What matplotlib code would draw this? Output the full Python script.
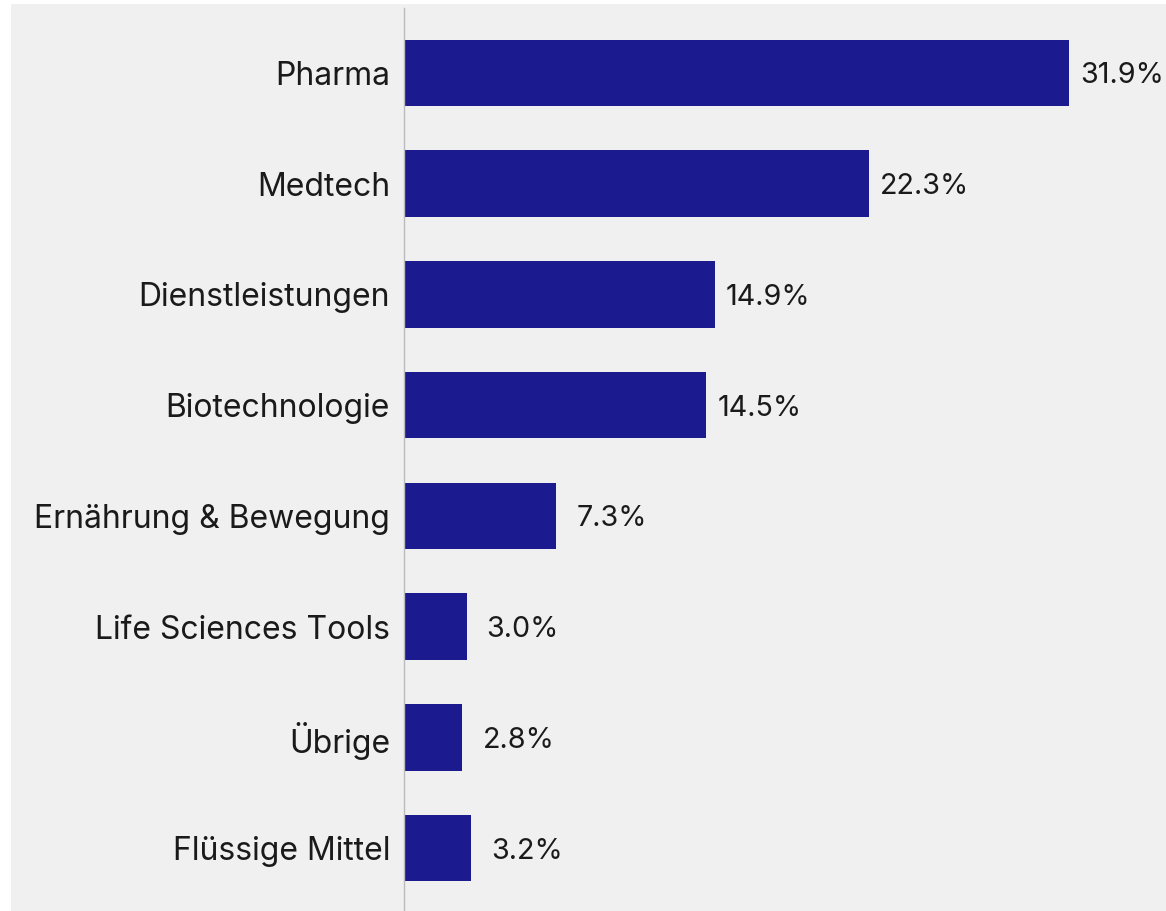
import matplotlib.pyplot as plt
from matplotlib.patches import Rectangle

categories = ['Pharma', 'Medtech', 'Dienstleistungen', 'Biotechnologie',
              'Ernährung & Bewegung', 'Life Sciences Tools', 'Übrige', 'Flüssige Mittel']
values = [31.9, 22.3, 14.9, 14.5, 7.3, 3.0, 2.8, 3.2]
labels = ['31.9%', '22.3%', '14.9%', '14.5%', '7.3%', '3.0%', '2.8%', '3.2%']

plt.rcParams['font.family'] = ['Inter', 'DejaVu Sans']

W, H = 1166, 911
fig = plt.figure(figsize=(W / 100, H / 100), dpi=100, facecolor='white')
# grey background panel (white strip on the left and top)
fig.patches.append(Rectangle((11 / W, 0), 1 - 11 / W, 1 - 4 / H, transform=fig.transFigure,
                             facecolor='#f0f0f0', edgecolor='none', zorder=-10))

ax = fig.add_axes([404 / W, 0, 1 - 404 / W, (911 - 8) / H])
ax.set_facecolor('none')

y = list(range(len(categories)))
ax.barh(y, values, height=0.6, color='#1b1a8f')

for yi, v, lab in zip(y, values, labels):
    off = 11 if v > 10 else 20
    ax.annotate(lab, (v, yi), xytext=(off * 0.72, 0), textcoords='offset points',
                va='center_baseline', ha='left', fontsize=20.7, color='#1a1a1a')

ax.set_yticks(y)
ax.set_yticklabels(categories, fontsize=23, color='#1a1a1a', va='center_baseline')
ax.tick_params(axis='y', length=0, pad=10)
ax.set_xticks([])
ax.set_xlim(0, (W - 404) / 20.85)
ax.set_ylim(7.569, -0.587)

for s in ['top', 'right', 'bottom']:
    ax.spines[s].set_visible(False)
ax.spines['left'].set_color('#bbbbbb')
ax.spines['left'].set_linewidth(1)

fig.savefig('out.png', dpi=100, facecolor=fig.get_facecolor())
